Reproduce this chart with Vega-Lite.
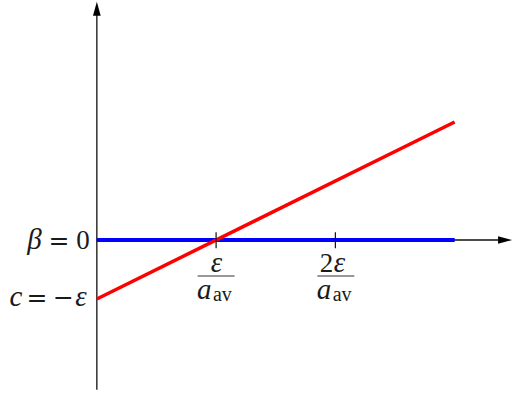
{
  "$schema": "https://vega.github.io/schema/vega-lite/v6.json",
  "width": 513,
  "height": 397,
  "padding": 0,
  "autosize": {"type": "fit", "contains": "padding"},
  "config": {"view": {"stroke": null}, "background": "white"},
  "datasets": {
    "axes": [
      {"x": 0, "y": -2.54, "x2": 0, "y2": 3.82},
      {"x": 0, "y": 0, "x2": 3.38, "y2": 0}
    ],
    "ticks": [
      {"x": 1, "y": 0.13, "x2": 1, "y2": -0.14},
      {"x": 2, "y": 0.13, "x2": 2, "y2": -0.14}
    ],
    "bars": [
      {"x": 0.845, "y": -0.61, "x2": 1.155, "y2": -0.61},
      {"x": 1.849, "y": -0.61, "x2": 2.159, "y2": -0.61}
    ],
    "beta": [{"x": 0, "y": 0}, {"x": 3, "y": 0}],
    "c": [{"x": 0, "y": -1}, {"x": 3, "y": 2}],
    "yarrow": [{"x": 0, "y": 3.92}],
    "xarrow": [{"x": 3.423, "y": 0}],
    "italic": [
      {"x": -0.523, "y": -0.1525, "g": "β"},
      {"x": -0.678, "y": -1.119, "g": "c"},
      {"x": -0.134, "y": -1.119, "g": "ε"},
      {"x": 1.004, "y": -0.542, "g": "ε"},
      {"x": 0.901, "y": -1.0, "g": "a"},
      {"x": 1.905, "y": -1.0, "g": "a"}
    ],
    "italicLeft": [
      {"x": 1.986, "y": -0.542, "g": "ε"}
    ],
    "roman": [
      {"x": -0.117, "y": -0.1525, "g": "0"}
    ],
    "romanRight": [
      {"x": 1.983, "y": -0.542, "g": "2"}
    ],
    "ops": [
      {"x": -0.318, "y": -0.1525, "g": "="},
      {"x": -0.502, "y": -1.119, "g": "="},
      {"x": -0.28, "y": -1.119, "g": "−"}
    ],
    "sub": [
      {"x": 1.053, "y": -1.034, "g": "av"},
      {"x": 2.057, "y": -1.034, "g": "av"}
    ]
  },
  "encoding": {
    "x": {"field": "x", "type": "quantitative", "axis": null, "scale": {"domain": [-0.812, 3.481], "nice": false, "zero": false}},
    "y": {"field": "y", "type": "quantitative", "axis": null, "scale": {"domain": [-2.661, 4.068], "nice": false, "zero": false}}
  },
  "layer": [
    {"data": {"name": "axes"}, "mark": {"type": "rule", "color": "#111", "strokeWidth": 1.3},
     "encoding": {"x2": {"field": "x2"}, "y2": {"field": "y2"}}},
    {"data": {"name": "beta"}, "mark": {"type": "line", "color": "#0000ff", "strokeWidth": 4}, "encoding": {}},
    {"data": {"name": "c"}, "mark": {"type": "line", "color": "#ff0000", "strokeWidth": 3.5}, "encoding": {}},
    {"data": {"name": "ticks"}, "mark": {"type": "rule", "color": "#111", "strokeWidth": 1.2},
     "encoding": {"x2": {"field": "x2"}, "y2": {"field": "y2"}}},
    {"data": {"name": "bars"}, "mark": {"type": "rule", "color": "#333", "strokeWidth": 1.2},
     "encoding": {"x2": {"field": "x2"}, "y2": {"field": "y2"}}},
    {"data": {"name": "yarrow"}, "mark": {"type": "point", "filled": true, "color": "#000", "opacity": 1, "shape": "M0,-1L0.55,1L-0.55,1Z", "size": 196}},
    {"data": {"name": "xarrow"}, "mark": {"type": "point", "filled": true, "color": "#000", "opacity": 1, "shape": "M1,0L-1,0.55L-1,-0.55Z", "size": 196}},
    {"data": {"name": "italic"}, "mark": {"type": "text", "font": "Liberation Serif", "fontStyle": "italic", "fontSize": 29, "align": "center", "baseline": "alphabetic", "color": "#1a1a1a"},
     "encoding": {"text": {"field": "g"}}},
    {"data": {"name": "italicLeft"}, "mark": {"type": "text", "font": "Liberation Serif", "fontStyle": "italic", "fontSize": 29, "align": "left", "baseline": "alphabetic", "color": "#1a1a1a"},
     "encoding": {"text": {"field": "g"}}},
    {"data": {"name": "roman"}, "mark": {"type": "text", "font": "Liberation Serif", "fontSize": 27, "align": "center", "baseline": "alphabetic", "color": "#1a1a1a"},
     "encoding": {"text": {"field": "g"}}},
    {"data": {"name": "romanRight"}, "mark": {"type": "text", "font": "Liberation Serif", "fontSize": 27, "align": "right", "baseline": "alphabetic", "color": "#1a1a1a"},
     "encoding": {"text": {"field": "g"}}},
    {"data": {"name": "ops"}, "mark": {"type": "text", "font": "DejaVu Serif", "fontSize": 25, "align": "center", "baseline": "alphabetic", "color": "#1a1a1a"},
     "encoding": {"text": {"field": "g"}}},
    {"data": {"name": "sub"}, "mark": {"type": "text", "font": "Liberation Serif", "fontSize": 20, "align": "center", "baseline": "alphabetic", "color": "#1a1a1a"},
     "encoding": {"text": {"field": "g"}}}
  ]
}
